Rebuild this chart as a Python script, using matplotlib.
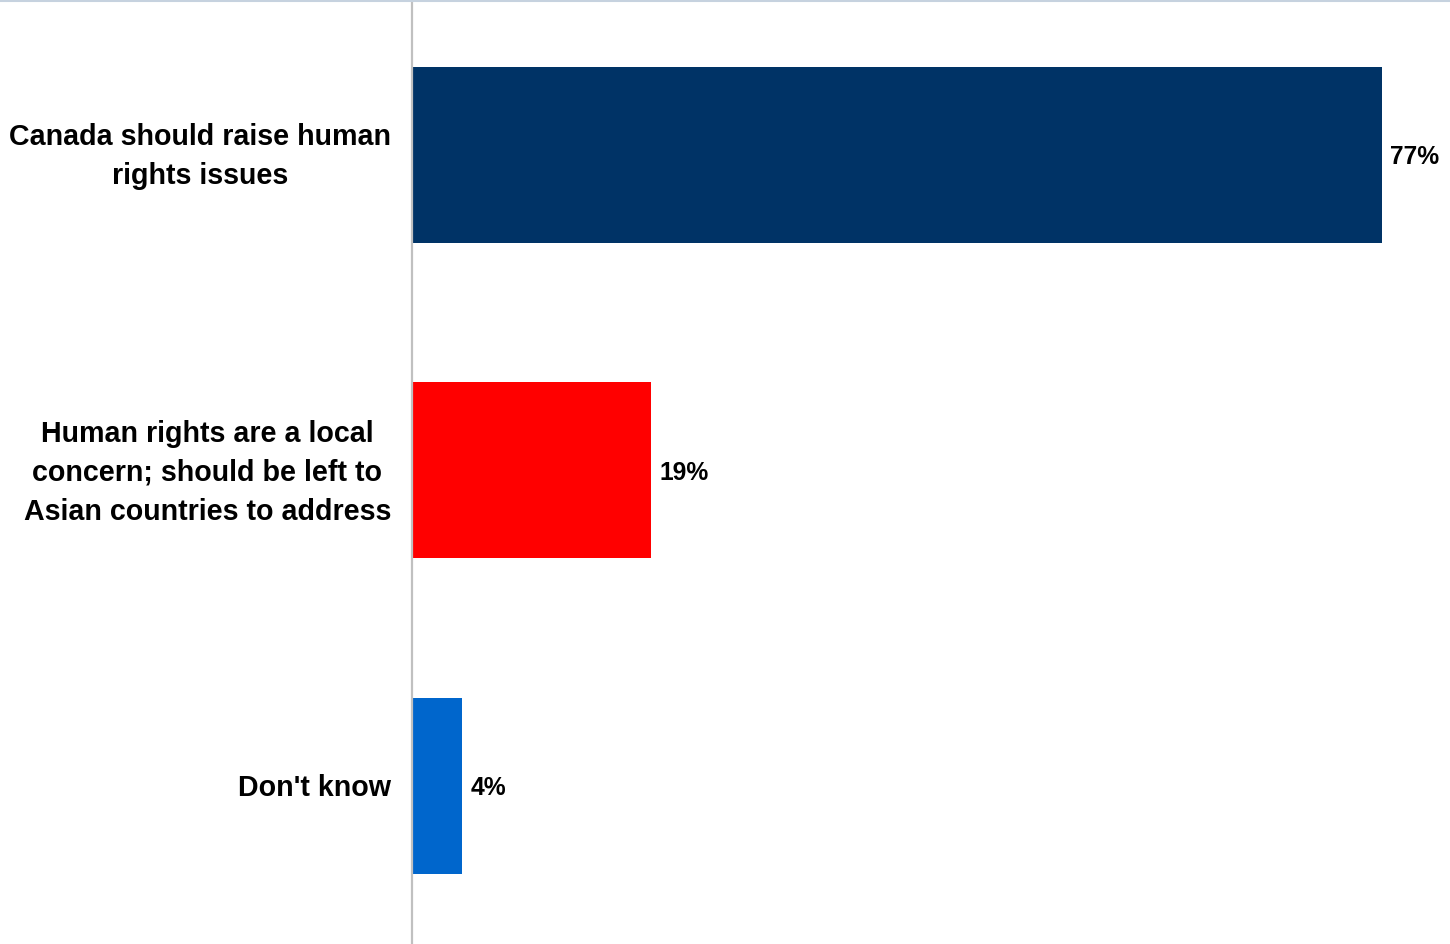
import matplotlib
matplotlib.use("Agg")
import matplotlib.pyplot as plt
from matplotlib.lines import Line2D

plt.rcParams['font.family'] = ['Liberation Sans', 'DejaVu Sans']

categories = [
    "Canada should raise human\nrights issues",
    "Human rights are a local\nconcern; should be left to\nAsian countries to address",
    "Don't know",
]
values = [77, 19, 4]
value_labels = ["77%", "19%", "4%"]
colors = ["#003366", "#ff0000", "#0066cc"]

fig = plt.figure(figsize=(14.5, 9.44), dpi=100)
ax = fig.add_axes([412 / 1450, 0, 1 - 412 / 1450, 1])

y = list(range(len(categories)))
ax.barh(y, values, height=0.558, color=colors, left=0)
ax.set_ylim(2.501, -0.491)
ax.set_xlim(0, 82.4)

for yi, v, lab in zip(y, values, value_labels):
    ax.annotate(lab, xy=(v, yi), xytext=(6, -1.8), textcoords="offset points",
                ha="left", va="center", fontsize=17.7, fontweight="bold", color="black")

for yi, cat in zip(y, categories):
    ax.annotate(cat, xy=(0, yi), xycoords=("axes fraction", "data"),
                xytext=(-15, -1.5), textcoords="offset points",
                ha="right", va="center", multialignment="center",
                fontsize=20.6, fontweight="bold", color="black", linespacing=1.5)

for side in ["top", "right", "bottom"]:
    ax.spines[side].set_visible(False)
ax.spines["left"].set_color("#c0c0c0")
ax.spines["left"].set_linewidth(1.6)
ax.set_xticks([])
ax.set_yticks([])

fig.add_artist(Line2D([0, 1], [0.999, 0.999], transform=fig.transFigure,
                      color="#c6d2df", linewidth=1.5))

fig.savefig("out.png", dpi=100)
